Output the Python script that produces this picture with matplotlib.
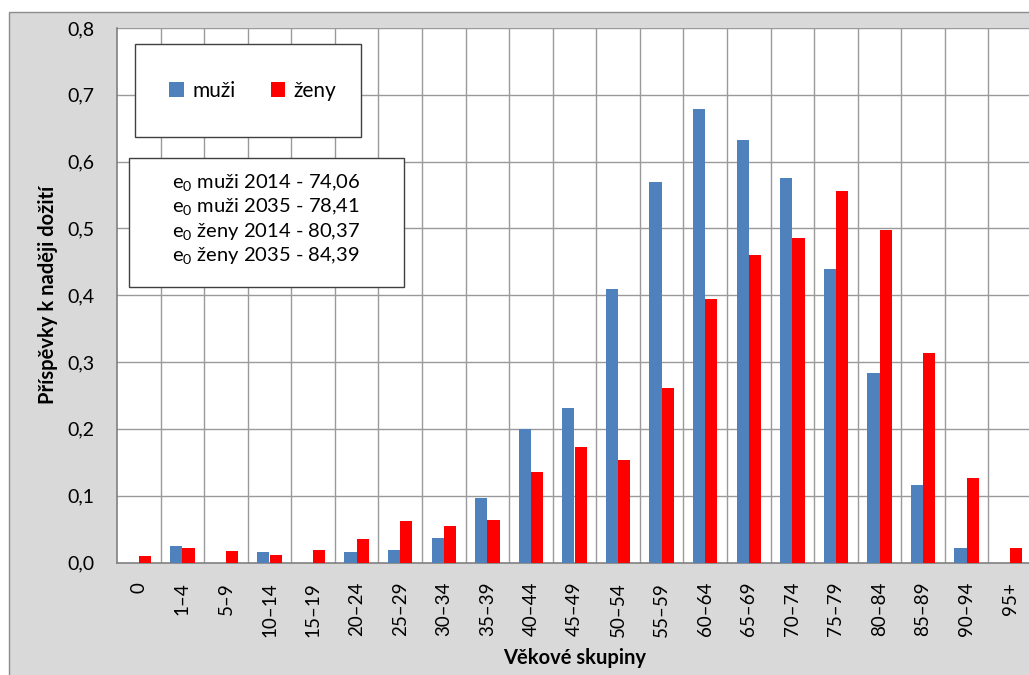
import matplotlib
matplotlib.use("Agg")
import matplotlib.pyplot as plt
from matplotlib.patches import Rectangle
from matplotlib.ticker import FuncFormatter
import numpy as np

plt.rcParams['font.family'] = ['Lato', 'DejaVu Sans']
plt.rcParams['mathtext.fontset'] = 'custom'
plt.rcParams['mathtext.rm'] = 'Lato'

categories = ["0", "1–4", "5–9", "10–14", "15–19", "20–24", "25–29", "30–34",
              "35–39", "40–44", "45–49", "50–54", "55–59", "60–64", "65–69",
              "70–74", "75–79", "80–84", "85–89", "90–94", "95+"]
muzi = [0.0, 0.024, 0.0, 0.016, 0.0, 0.016, 0.019, 0.036, 0.096, 0.200, 0.231,
        0.409, 0.569, 0.679, 0.632, 0.575, 0.440, 0.283, 0.116, 0.021, 0.0]
zeny = [0.009, 0.021, 0.017, 0.011, 0.019, 0.035, 0.062, 0.055, 0.063, 0.135,
        0.173, 0.153, 0.261, 0.395, 0.460, 0.486, 0.556, 0.497, 0.313, 0.126, 0.022]
e0_lines = ["e$_{\\mathregular{0}}$ muži 2014 - 74,06",
            "e$_{\\mathregular{0}}$ muži 2035 - 78,41",
            "e$_{\\mathregular{0}}$ ženy 2014 - 80,37",
            "e$_{\\mathregular{0}}$ ženy 2035 - 84,39"]

W, H = 1029, 675
fig = plt.figure(figsize=(W / 100, H / 100), dpi=100)
fig.patch.set_facecolor('white')

# chart area background, kept behind the axes
bg = Rectangle((9 / W, -0.01), 1.0, (H - 12) / H + 0.01,
               transform=fig.transFigure, facecolor='#d9d9d9',
               edgecolor='#8c8c8c', linewidth=1.0, zorder=-10)
fig.patches.append(bg)

ax = fig.add_axes([117 / W, (H - 562.5) / H, 915 / W, (562.5 - 28) / H])
ax.set_facecolor('white')

x = np.arange(len(categories))
bw = 0.28
ax.bar(x - bw / 2, muzi, width=bw, color='#4f81bd', label='muži', zorder=3)
ax.bar(x + bw / 2, zeny, width=bw, color='#ff0000', label='ženy', zorder=3)

ax.set_xlim(-0.5, len(categories) - 0.5)
ax.set_ylim(0, 0.8)
ax.set_yticks(np.arange(0, 0.81, 0.1))
ax.yaxis.set_major_formatter(FuncFormatter(lambda v, p: f"{v:.1f}".replace('.', ',')))
ax.set_xticks(x)
ax.set_xticklabels(categories, rotation=90, fontsize=13.5)
ax.tick_params(axis='y', labelsize=14, length=0, pad=16)
ax.tick_params(axis='x', length=0, pad=14)

# grid: horizontal at ticks, vertical at category boundaries
for yv in np.arange(0.1, 0.81, 0.1):
    ax.axhline(yv, color='#9a9a9a', linewidth=1.0, zorder=1)
for xb in np.arange(0.5, len(categories) - 0.5, 1):
    ax.axvline(xb, color='#9a9a9a', linewidth=1.0, zorder=1)

for s in ['top', 'right']:
    ax.spines[s].set_visible(False)
ax.spines['left'].set_color('#808080')
ax.spines['bottom'].set_color('#808080')
ax.spines['left'].set_linewidth(1.2)
ax.spines['bottom'].set_linewidth(1.2)

ax.set_ylabel("Příspěvky k naději dožití", fontsize=14.5, fontweight='bold', labelpad=7)
ax.set_xlabel("Věkové skupiny", fontsize=14.5, fontweight='bold', labelpad=8)


def px_rect(x0, y0, x1, y1):
    return Rectangle((x0 / W, 1 - y1 / H), (x1 - x0) / W, (y1 - y0) / H,
                     transform=fig.transFigure, facecolor='white',
                     edgecolor='#404040', linewidth=1.0, zorder=5)


# legend box
fig.patches.append(px_rect(135, 44, 361, 137))
leg = fig.legend(loc='center', bbox_to_anchor=(253 / W, 1 - 91 / H), ncol=2,
                 frameon=False, fontsize=15, handlelength=0.7, handleheight=0.7,
                 handletextpad=0.4, columnspacing=1.7)
leg.set_zorder(6)

# life expectancy box
fig.patches.append(px_rect(129, 158, 404, 287))
for i, line in enumerate(e0_lines):
    fig.text(172 / W, 1 - (183 + 24.5 * i) / H, line, fontsize=14.5,
             va='center', ha='left', zorder=7)

fig.savefig("out.png", dpi=100)
